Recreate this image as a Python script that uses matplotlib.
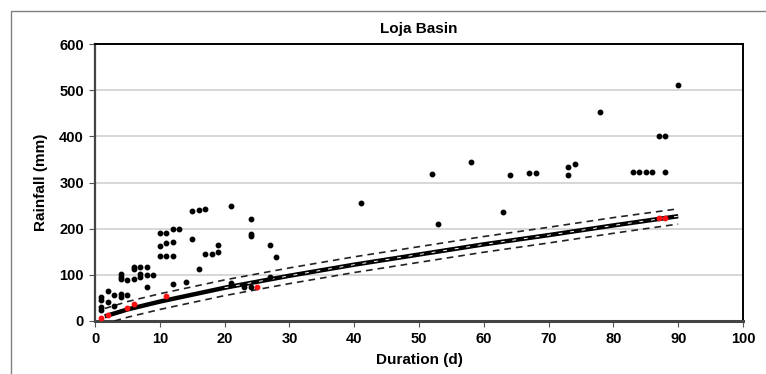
import matplotlib
matplotlib.use("Agg")
import matplotlib.pyplot as plt
from matplotlib.patches import Rectangle

# Observed events (black)
obs_x = [1, 1, 1, 1, 2, 2, 3, 3, 4, 4, 4, 4, 4, 5, 5, 6, 6, 6, 7, 7, 7, 8, 8, 8, 9,
         10, 10, 10, 11, 11, 11, 12, 12, 12, 12, 13, 14, 15, 15, 16, 16, 17, 17, 18,
         19, 19, 21, 21, 23, 24, 24, 24, 24, 27, 27, 28, 41, 52, 53, 58, 63, 64, 67,
         68, 73, 73, 74, 78, 83, 84, 85, 86, 87, 88, 88, 90]
obs_y = [51, 45, 30, 23, 64, 41, 56, 33, 59, 52, 101, 96, 91, 89, 56, 116, 112, 91,
         116, 101, 96, 116, 99, 74, 100, 190, 163, 141, 190, 170, 141, 199, 172, 141,
         81, 200, 84, 238, 177, 241, 112, 243, 146, 146, 164, 149, 249, 83, 74, 220,
         188, 185, 74, 165, 96, 139, 255, 319, 211, 345, 237, 316, 320, 320, 334, 316,
         340, 453, 322, 322, 322, 322, 401, 401, 322, 512]

# Threshold events (red)
red_x = [1, 2, 5, 6, 11, 25, 87, 88]
red_y = [6.5, 12, 28, 37, 54, 74, 223, 223]

# Threshold curve and bounds
curve_x = [1.5, 5, 10, 20, 30, 40, 50, 60, 70, 80, 90]
curve_y = [10, 25, 42, 72, 98, 122, 144, 166, 186, 207, 227]
upper_x = [1.5, 5, 10, 20, 30, 40, 50, 60, 70, 80, 90]
upper_y = [27, 42, 59, 89, 115, 139, 161, 183, 203, 224, 243]
lower_x = [3, 5, 10, 20, 30, 40, 50, 60, 70, 80, 90]
lower_y = [0, 8, 25, 55, 81, 105, 127, 149, 169, 190, 210]

x_ticks = [0, 10, 20, 30, 40, 50, 60, 70, 80, 90, 100]
y_ticks = [0, 100, 200, 300, 400, 500, 600]

plt.rcParams['font.family'] = ['Liberation Sans', 'DejaVu Sans']

fig = plt.figure(figsize=(7.66, 3.74), dpi=100)
fig.patches.append(Rectangle((11/766, -0.1), 1.2, 1 - 11/374 + 0.1,
                             transform=fig.transFigure, fill=False,
                             edgecolor='#808080', linewidth=1.0))

ax = fig.add_axes([95/766, 1 - 321/374, (743 - 95)/766, (321 - 44)/374])

ax.set_xlim(0, 100)
ax.set_ylim(0, 600)
ax.set_xticks(x_ticks)
ax.set_yticks(y_ticks)
ax.tick_params(axis='both', labelsize=10.5, direction='out', length=4,
               width=0.8, color='#555555', pad=4)
for lbl in ax.get_xticklabels() + ax.get_yticklabels():
    lbl.set_fontweight('bold')

ax.grid(axis='y', color='#d4d4d4', linewidth=1.3)
ax.set_axisbelow(True)

for s in ['top', 'right']:
    ax.spines[s].set_color('black')
    ax.spines[s].set_linewidth(1.4)
ax.spines['left'].set_color('#444444')
ax.spines['left'].set_linewidth(1.6)
ax.spines['bottom'].set_color('#444444')
ax.spines['bottom'].set_linewidth(2.2)

ax.plot(upper_x, upper_y, color='#222222', linestyle=(0, (4, 3)), linewidth=1.2, zorder=3)
ax.plot(lower_x, lower_y, color='#222222', linestyle=(0, (4, 3)), linewidth=1.2, zorder=3)
ax.plot(curve_x, curve_y, color='black', linewidth=3.2, zorder=3, solid_capstyle='butt')
ax.plot(curve_x[3:], curve_y[3:], color='white', linewidth=0.7,
        linestyle=(0, (4, 8)), zorder=3.5)

ax.plot(obs_x, obs_y, 'o', color='black', markersize=3.2, zorder=4)
ax.plot(red_x, red_y, 'o', color='#ff1010', markersize=3.2, zorder=5)

ax.set_title('Loja Basin', fontsize=11, fontweight='bold', pad=8)
ax.set_xlabel('Duration (d)', fontsize=11, fontweight='bold', labelpad=5)
ax.set_ylabel('Rainfall (mm)', fontsize=11, fontweight='bold', labelpad=8)

fig.savefig('out.png', dpi=100)
